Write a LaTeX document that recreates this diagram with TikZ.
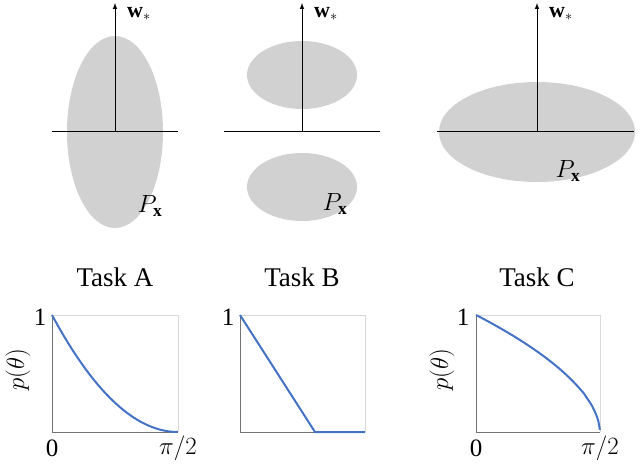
\documentclass[tikz,border=0pt]{standalone}
\usepackage{fontspec}
\setmainfont{Liberation Serif}
\begin{document}
\begin{tikzpicture}[x=1pt,y=-1pt,
  blob/.style={fill=black!18},
  axis/.style={line width=1pt},
  frame/.style={draw=black!15,line width=0.6pt},
  paxis/.style={draw=black!55,line width=0.8pt},
  curve/.style={draw={rgb,255:red,68;green,114;blue,196},line width=2pt},
  lab/.style={font=\fontsize{27}{30}\selectfont},
  tick/.style={font=\fontsize{25}{28}\selectfont},
  wlab/.style={font=\fontsize{22}{24}\selectfont,inner sep=1pt}]
\useasboundingbox (0,0) rectangle (640,464);
% Task A
\fill[blob] (115,132) ellipse [x radius=48,y radius=96];
\coordinate (oA) at (115,131);
\coordinate (aL) at (52,131); \coordinate (aR) at (178,131);
\coordinate (tA) at (115,3);
\draw[axis] (aL) -- (aR);
\draw[axis,-latex] (oA) -- (tA);
\node[wlab] (wA) at (139,14) {$\mathbf{w}_*$};
\node[tick] (pA) at (150,206) {$P_{\mathbf{x}}$};
% Task B
\fill[blob] (302,75) ellipse [x radius=55,y radius=34];
\fill[blob] (302,187) ellipse [x radius=55,y radius=34];
\coordinate (oB) at (302,131);
\coordinate (bL) at (224,131); \coordinate (bR) at (380,131);
\coordinate (tB) at (302,3);
\draw[axis] (bL) -- (bR);
\draw[axis,-latex] (oB) -- (tB);
\node[wlab] (wB) at (326,14) {$\mathbf{w}_*$};
\node[tick] (pB) at (335,204) {$P_{\mathbf{x}}$};
% Task C
\fill[blob] (537,132) ellipse [x radius=98,y radius=50];
\coordinate (oC) at (537,131);
\coordinate (cL) at (437,131); \coordinate (cR) at (634,131);
\coordinate (tC) at (537,3);
\draw[axis] (cL) -- (cR);
\draw[axis,-latex] (oC) -- (tC);
\node[wlab] (wC) at (561,14) {$\mathbf{w}_*$};
\node[tick] (pC) at (568,171) {$P_{\mathbf{x}}$};
% task labels
\node[lab] (TA) at (115,277) {Task A};
\node[lab] (TB) at (302,277) {Task B};
\node[lab] (TC) at (537,277) {Task C};
% plot A
\draw[frame] (52,315) -- (178,315) -- (178,432);
\draw[paxis] (52,315) -- (52,432) -- (178,432);
\draw[curve] plot[domain=0:1,samples=40] ({52+126*\x},{315+117*(1-(1-\x)^2)});
\node[tick] (oneA) at (40,317) {1};
\node[tick] (zA) at (52,448) {0};
\node[tick] (piA) at (178,448) {$\pi/2$};
\node[tick,rotate=90] (pyA) at (18,370) {$p(\theta)$};
% plot B
\draw[frame] (240,315) -- (365,315) -- (365,432);
\draw[paxis] (240,315) -- (240,432) -- (365,432);
\draw[curve] (240,315) -- (315,432) -- (365,432);
\node[tick] (oneB) at (228,317) {1};
% plot C
\draw[frame] (476,315) -- (600,315) -- (600,432);
\draw[paxis] (476,315) -- (476,432) -- (600,432);
\draw[curve] plot[domain=0:1,samples=80] ({476+124*\x},{315+117*(1-(1-\x)^0.55)});
\node[tick] (oneC) at (463,317) {1};
\node[tick] (zC) at (476,448) {0};
\node[tick] (piC) at (600,448) {$\pi/2$};
\node[tick,rotate=90] (pyC) at (442,370) {$p(\theta)$};
\end{tikzpicture}
\end{document}
